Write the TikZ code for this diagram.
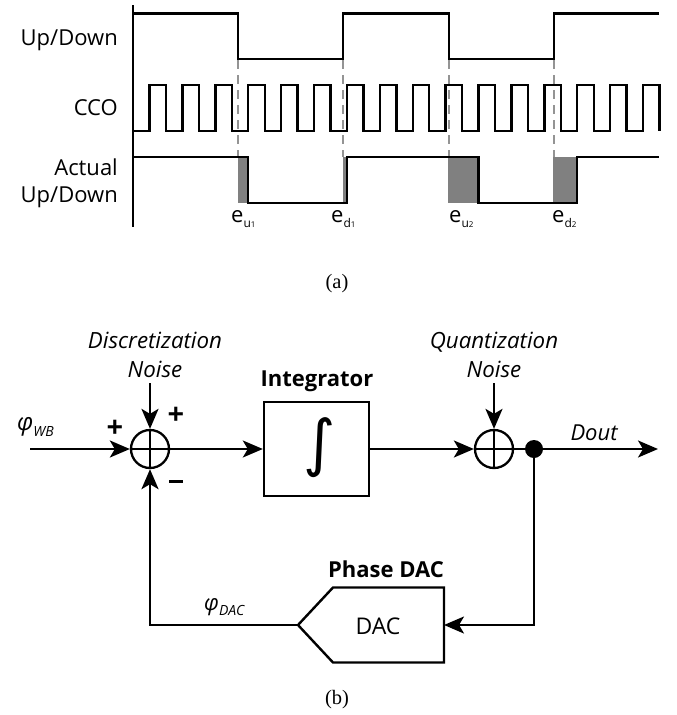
\documentclass[tikz,border=0pt]{standalone}
\usepackage{fontspec}
\setmainfont{Open Sans}
\newfontfamily\capfont{Liberation Serif}
\newfontfamily\intfont{DejaVu Sans}
\usetikzlibrary{arrows.meta}
\tikzset{
  wave/.style={line width=2.4pt,line join=miter},
  guide/.style={line width=2.2pt,draw=black!42,dash pattern=on 9pt off 6pt},
  errfill/.style={fill=black!50,draw=none},
  wire/.style={line width=2.3pt},
  tip/.style={-{Stealth[length=20pt,width=17pt,inset=5pt]}},
  arr/.style={wire,tip},
  sumnode/.style={circle,draw,line width=2.3pt,minimum size=38pt,inner sep=0pt},
  blockbox/.style={draw,line width=2.4pt,inner sep=0pt},
  lab/.style={font=\fontsize{22}{22}\selectfont,inner sep=0pt},
  noiselab/.style={font=\fontsize{22.3}{29}\selectfont\itshape,align=center,inner sep=0pt},
  boldlab/.style={font=\fontsize{22}{22}\selectfont\bfseries,inner sep=0pt},
  sign/.style={font=\fontsize{29}{29}\selectfont\bfseries,inner sep=0pt},
  caption/.style={font=\capfont\fontsize{20.5}{20.5}\selectfont,inner sep=0pt}
}
\newcommand{\errlab}[2]{\fontsize{22}{22}\selectfont e\raisebox{-5pt}{\fontsize{12}{12}\selectfont #1\fontsize{8}{8}\selectfont #2}}
\begin{document}
\begin{tikzpicture}[x=1pt,y=-1pt]
\useasboundingbox (0,0) rectangle (677,715);
% shaded errors
\fill[errfill] (237.5,157) rectangle (248,203);
\fill[errfill] (342.5,157) rectangle (347,203);
\fill[errfill] (448,157) rectangle (478.5,203);
\fill[errfill] (553,157) rectangle (577,203);
% dashed guides
\foreach \x in {238,343,448.7,554} \draw[guide] (\x,60) -- (\x,157);
% axis
\draw[wave] (133,5) -- (133,227);
% up/down
\draw[wave] (133,13.5) -- (238,13.5) -- (238,59) -- (343,59) -- (343,13.5) -- (449,13.5) -- (449,59) -- (554,59) -- (554,13.5) -- (659,13.5);
% cco
\draw[wave] (133,131)
  \foreach \k in {0,...,15} {
    -- ({149.5+32.9*\k},131) -- ({149.5+32.9*\k},85) -- ({166+32.9*\k},85) -- ({166+32.9*\k},131)
  };
% actual
\draw[wave] (133,157) -- (248,157) -- (248,203) -- (347,203) -- (347,157) -- (478.5,157) -- (478.5,203) -- (577,203) -- (577,157) -- (659,157);
% labels
\node[lab,anchor=east] (ud) at (118,40) {Up/Down};
\node[lab,anchor=east] (cco) at (118,108) {CCO};
\node[lab,anchor=east] (act) at (118,167) {Actual};
\node[lab,anchor=east] (ud2) at (118,197) {Up/Down};
\node[lab,anchor=base west] (eu1) at (231,222) {\errlab{u}{1}};
\node[lab,anchor=base west] (ed1) at (331,222) {\errlab{d}{1}};
\node[lab,anchor=base west] (eu2) at (449,222) {\errlab{u}{2}};
\node[lab,anchor=base west] (ed2) at (552,222) {\errlab{d}{2}};
\node[caption] (capa) at (337,284) {(a)};
% block diagram
\node[sumnode] (s1) at (150,449) {};
\node[sumnode] (s2) at (494,449) {};
\draw[wire] (s1.north) -- (s1.south) (s1.west) -- (s1.east);
\draw[wire] (s2.north) -- (s2.south) (s2.west) -- (s2.east);
\node[blockbox,minimum width=105pt,minimum height=94pt] (int) at (316.5,449) {};
\node[inner sep=0pt] (intsym) at (320,448) {\intfont\fontsize{62}{62}\selectfont ∫};
\node[boldlab] (intlab) at (317,381) {Integrator};
\node[noiselab] (dn) at (155,354.5) {Discretization\\Noise};
\node[noiselab] (qn) at (494,354.5) {Quantization\\Noise};
\coordinate (in) at (30,449);
\coordinate (dnt) at (150,383);
\coordinate (qnt) at (494,383);
\coordinate (out) at (658,449);
\node[circle,fill=black,minimum size=18pt,inner sep=0pt] (dot) at (534,449) {};
\draw[arr] (in) -- (s1.west);
\draw[arr] (dnt) -- (s1.north);
\draw[arr] (s1.east) -- (int.west);
\draw[arr] (int.east) -- (s2.west);
\draw[arr] (qnt) -- (s2.north);
\draw[wire] (s2.east) -- (dot);
\draw[arr] (dot) -- (out);
\node[lab,font=\fontsize{22}{22}\selectfont\itshape] (doutl) at (594,433) {Dout};
\node[sign] (p1) at (115,429) {+};
\node[sign] (p2) at (176,416) {+};
\node[inner sep=0pt,minimum width=14pt,minimum height=3pt,fill=black] (m) at (176,481) {};
\node[lab,anchor=west] (phi) at (17,427) {\fontsize{24}{24}\selectfont\itshape φ\raisebox{-6pt}{\fontsize{14}{14}\selectfont WB}};
% DAC
\coordinate (dacin) at (444,625);
\coordinate (dactip) at (298,625);
\draw[blockbox,line join=miter] (dactip) -- (333,587.5) -- (444,587.5) -- (444,662.5) -- (333,662.5) -- cycle;
\node[lab,font=\fontsize{23}{23}\selectfont] (dacl) at (378,626) {DAC};
\node[boldlab] (phl) at (386,569) {Phase DAC};
\coordinate (c1) at (534,625);
\coordinate (c2) at (150,625);
\draw[arr] (dot) -- (c1) -- (dacin);
\draw[arr] (dactip) -- (c2) -- (s1.south);
\node[lab,anchor=west] (phid) at (204,607) {\fontsize{22}{22}\selectfont\itshape φ\raisebox{-5pt}{\fontsize{14}{14}\selectfont DAC}};
\node[caption] (capb) at (337,700) {(b)};
\end{tikzpicture}
\end{document}
